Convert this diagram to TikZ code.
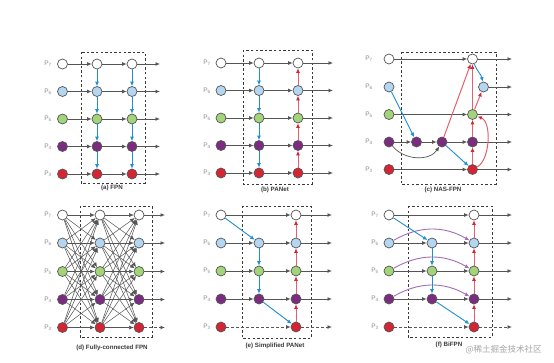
\documentclass[tikz,border=0pt]{standalone}
\usepackage{fontspec}
\setmainfont{Liberation Sans}
\setsansfont{Liberation Sans}
\newfontfamily\cjk{Noto Sans CJK SC}
\usetikzlibrary{arrows.meta}
\definecolor{bord}{HTML}{555555}
\definecolor{cblue}{HTML}{B5D6F0}
\definecolor{cgreen}{HTML}{A3D47A}
\definecolor{cpurple}{HTML}{7B2C80}
\definecolor{cred}{HTML}{D42535}
\definecolor{lgray}{HTML}{8A8A8A}
\definecolor{dgray}{HTML}{3A3A3A}
\definecolor{agray}{HTML}{555555}
\definecolor{bline}{HTML}{1E8FD2}
\definecolor{rline}{HTML}{E4606F}
\definecolor{pline}{HTML}{A46DB5}
\tikzset{
  nd/.style={circle, draw=bord, line width=0.7pt, minimum size=10pt, inner sep=0pt},
  nw/.style={nd, fill=white}, nb/.style={nd, fill=cblue}, ng/.style={nd, fill=cgreen},
  np/.style={nd, fill=cpurple}, nr/.style={nd, fill=cred},
  lbl/.style={font=\fontsize{6.5}{7}\selectfont, text=lgray},
  captxt/.style={font=\fontsize{6.2}{7}\selectfont\bfseries, text=dgray},
  pbox/.style={draw=dgray, line width=0.8pt, dash pattern=on 2.4pt off 2.2pt},
  ga/.style={draw=agray, line width=1pt, -{Latex[length=4.5pt,width=4pt]}},
  gd/.style={ga, dash pattern=on 3pt off 2pt},
  fa/.style={draw=agray, line width=0.5pt, -{Latex[length=4.5pt,width=4pt]}},
  ba/.style={draw=bline, line width=0.9pt, -{Latex[length=4.5pt,width=4pt]}},
  ra/.style={draw=rline, line width=1pt, -{Latex[length=4.5pt,width=4pt,color=cred]}},
  pa/.style={draw=pline, line width=0.9pt, -{Latex[length=4.5pt,width=4pt]}},
}
\begin{document}
\begin{tikzpicture}[x=1pt,y=-1pt]
\useasboundingbox (0,0) rectangle (554,362);
\fill[white] (0,0) rectangle (554,362);
% ---------------- boxes
\draw[pbox] (81,52) rectangle (145,183);
\draw[pbox] (243,50) rectangle (312,184);
\draw[pbox] (401,52) rectangle (496,184);
\draw[pbox] (80,206) rectangle (152,337);
\draw[pbox] (242,206) rectangle (311,338);
\draw[pbox] (408,206) rectangle (492,337);
% ---------------- (a) FPN
\foreach \i/\s/\n/\y in {1/nw/7/64,2/nb/6/91.5,3/ng/5/119,4/np/4/146.5,5/nr/3/174} {
  \node[lbl] (aL\i) at (48,\y) {P\textsubscript{\n}};
  \node[\s] (aI\i) at (62.5,\y) {};
  \node[\s] (aA\i) at (97,\y) {};
  \node[\s] (aB\i) at (132,\y) {};
  \coordinate (aE\i) at (160,\y);
  \draw[ga] (aI\i) -- (aA\i);
  \draw[ga] (aA\i) -- (aB\i);
  \draw[ga] (aB\i) -- (aE\i);
}
\foreach \i/\j in {1/2,2/3,3/4,4/5} {
  \draw[ba] (aA\i) -- (aA\j);
  \draw[ba] (aB\i) -- (aB\j);
}
\node[captxt] (acap) at (112,188) {(a) FPN};
% ---------------- (b) PANet
\foreach \i/\s/\n/\y in {1/nw/7/63,2/nb/6/90.5,3/ng/5/118,4/np/4/145.5,5/nr/3/173} {
  \node[lbl] (bL\i) at (207,\y) {P\textsubscript{\n}};
  \node[\s] (bI\i) at (221,\y) {};
  \node[\s] (bA\i) at (259,\y) {};
  \node[\s] (bB\i) at (298,\y) {};
  \coordinate (bE\i) at (333,\y);
  \draw[ga] (bI\i) -- (bA\i);
  \draw[ga] (bA\i) -- (bB\i);
  \draw[ga] (bB\i) -- (bE\i);
}
\foreach \i/\j in {1/2,2/3,3/4,4/5} {
  \draw[ba] (bA\i) -- (bA\j);
  \draw[ra] (bB\j) -- (bB\i);
}
\node[captxt] (bcap) at (275,190) {(b) PANet};
% ---------------- (c) NAS-FPN
\foreach \i/\s/\n/\y in {1/nw/7/59,2/nb/6/87,3/ng/5/114.5,4/np/4/142,5/nr/3/169.5} {
  \node[lbl] (cL\i) at (369,\y) {P\textsubscript{\n}};
  \node[\s] (cI\i) at (389,\y) {};
  \coordinate (cE\i) at (512,\y);
}
\node[nw] (cT) at (472.5,59) {};
\node[nb] (cS) at (483.5,87) {};
\node[ng] (cM5) at (472.5,114.5) {};
\node[np] (cN1) at (416.5,142) {};
\node[np] (cN2) at (442,142) {};
\node[np] (cM4) at (472.5,142) {};
\node[nr] (cM3) at (472.5,169.5) {};
\draw[ga] (cI1) -- (cT);
\draw[ga] (cT) -- (cE1);
\draw[ga] (cS) -- (cE2);
\draw[ga] (cI3) -- (cM5);
\draw[ga] (cM5) -- (cE3);
\draw[ga] (cI4) -- (cN1);
\draw[ga] (cN1) -- (cN2);
\draw[ga] (cN2) -- (cM4);
\draw[ga] (cM4) -- (cE4);
\draw[ga] (cI5) -- (cM3);
\draw[ga] (cM3) -- (cE5);
\draw[ga, line width=0.7pt] (cI4) .. controls (405,161) and (430,161) .. (cN2);
\draw[ba] (cI2) -- (cN1);
\draw[ba] (cN2) -- (cM3);
\draw[ba] (cT) to[out=-70,in=100] (cS);
\draw[ra] (cN2) -- (cT);
\draw[ra] (cM3) -- (cM4);
\draw[ra] (cM4) -- (cM5);
\draw[ra] (cM5) -- (cT);
\draw[ra] (cM5) -- (cS);
\draw[ra] (cM3) .. controls (490,160) and (492,122) .. (cM5);
\node[captxt] (ccap) at (443,190) {(c) NAS-FPN};
% ---------------- (d) Fully-connected FPN
\foreach \i/\s/\n/\y in {1/nw/7/215,2/nb/6/243,3/ng/5/271.5,4/np/4/299.5,5/nr/3/327.5} {
  \node[lbl] (dL\i) at (48,\y) {P\textsubscript{\n}};
  \node[\s] (dI\i) at (62.5,\y) {};
  \node[\s] (dA\i) at (100,\y) {};
  \node[\s] (dB\i) at (139,\y) {};
  \coordinate (dE\i) at (165,\y);
}
\foreach \i in {1,...,5} {
  \foreach \j in {1,...,5} {
    \draw[fa] (dI\i) -- (dA\j);
    \draw[fa] (dA\i) -- (dB\j);
  }
}
\foreach \i in {1,...,4} { \draw[ga] (dB\i) -- (dE\i); }
\draw[gd] (dB5) -- (dE5);
\node[captxt] (dcap) at (112,348) {(d) Fully-connected FPN};
% ---------------- (e) Simplified PANet
\foreach \i/\s/\n/\y in {1/nw/7/215,2/nb/6/243,3/ng/5/271,4/np/4/299,5/nr/3/327} {
  \node[lbl] (eL\i) at (207,\y) {P\textsubscript{\n}};
  \node[\s] (eI\i) at (221,\y) {};
  \node[\s] (eB\i) at (296,\y) {};
  \coordinate (eE\i) at (332,\y);
}
\foreach \i/\s/\y in {2/nb/243,3/ng/271,4/np/299} {
  \node[\s] (eA\i) at (259,\y) {};
  \draw[ga] (eI\i) -- (eA\i);
  \draw[ga] (eA\i) -- (eB\i);
  \draw[ga] (eB\i) -- (eE\i);
}
\draw[ga] (eI1) -- (eB1);
\draw[ga] (eB1) -- (eE1);
\draw[gd] (eI5) -- (eB5);
\draw[gd] (eB5) -- (eE5);
\draw[ba] (eI1) -- (eA2);
\draw[ba] (eA2) -- (eA3);
\draw[ba] (eA3) -- (eA4);
\draw[ba] (eA4) -- (eB5);
\foreach \i/\j in {1/2,2/3,3/4,4/5} { \draw[ra] (eB\j) -- (eB\i); }
\node[captxt] (ecap) at (275,346) {(e) Simplified PANet};
% ---------------- (f) BiFPN
\foreach \i/\s/\n/\y in {1/nw/7/215,2/nb/6/243,3/ng/5/271,4/np/4/299,5/nr/3/327} {
  \node[lbl] (fL\i) at (375,\y) {P\textsubscript{\n}};
  \node[\s] (fI\i) at (389,\y) {};
  \node[\s] (fB\i) at (474,\y) {};
  \coordinate (fE\i) at (512,\y);
}
\foreach \i/\s/\y in {2/nb/243,3/ng/271,4/np/299} {
  \node[\s] (fA\i) at (432,\y) {};
  \draw[ga] (fI\i) -- (fA\i);
  \draw[ga] (fA\i) -- (fB\i);
  \draw[ga] (fB\i) -- (fE\i);
  \draw[pa] (fI\i) to[bend left=30] (fB\i);
}
\draw[ga] (fI1) -- (fB1);
\draw[ga] (fB1) -- (fE1);
\draw[gd] (fI5) -- (fB5);
\draw[gd] (fB5) -- (fE5);
\draw[ba] (fI1) -- (fA2);
\draw[ba] (fA2) -- (fA3);
\draw[ba] (fA3) -- (fA4);
\draw[ba] (fA4) -- (fB5);
\foreach \i/\j in {1/2,2/3,3/4,4/5} { \draw[ra] (fB\j) -- (fB\i); }
\node[captxt] (fcap) at (449,345) {(f) BiFPN};
\node[font=\cjk\fontsize{8.5}{9}\selectfont, text=black!35, anchor=west] (wm) at (462,350) {@稀土掘金技术社区};
\end{tikzpicture}
\end{document}
